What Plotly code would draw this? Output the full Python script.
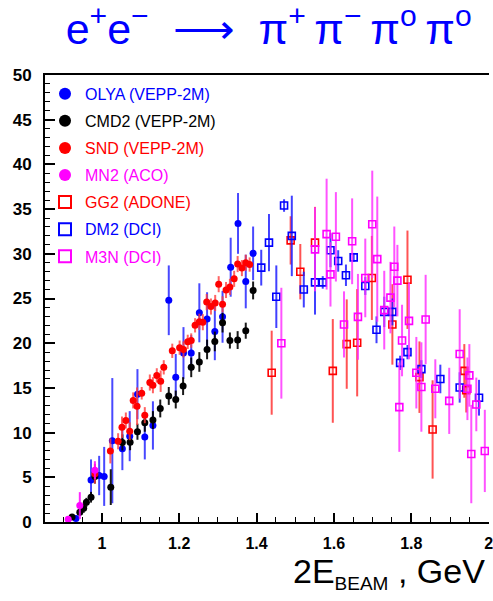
import plotly.graph_objects as go

# ---------------- data ----------------
olya_x = [0.933, 0.972, 0.993, 1.006, 1.027, 1.053, 1.072, 1.092, 1.111, 1.132, 1.173, 1.191,
          1.211, 1.231, 1.252, 1.272, 1.292, 1.312, 1.333, 1.352, 1.372, 1.391]
olya_y = [0.4, 4.7, 5.2, 5.1, 9.1, 8.2, 9.6, 14.3, 9.5, 10.8, 24.8, 16.2,
          18.9, 18.9, 23.4, 22.7, 21.3, 22.95, 28.5, 33.4, 26.9, 30.05]
olya_e = [0.3, 2.3, 2.2, 3.3, 7.0, 2.4, 2.8, 2.8, 2.5, 2.7, 3.9, 2.6,
          2.9, 2.0, 3.3, 3.0, 3.2, 2.9, 3.3, 3.4, 3.0, 3.0]

cmd2_x = [0.923, 0.943, 0.953, 0.960, 0.972, 0.982, 1.023, 1.053, 1.073, 1.092, 1.111, 1.132, 1.151,
          1.173, 1.191, 1.210, 1.231, 1.252, 1.272, 1.292, 1.312, 1.331, 1.351, 1.372, 1.391]
cmd2_y = [0.56, 1.09, 1.53, 2.2, 2.77, 5.1, 3.9, 8.9, 8.93, 10.1, 11.1, 11.4, 12.7,
          14.1, 13.7, 15.2, 17.3, 17.9, 19.3, 20.2, 22.3, 20.3, 20.35, 21.4, 25.9]
cmd2_e = [0.3, 0.4, 0.5, 0.5, 0.6, 0.8, 2.0, 0.9, 0.9, 0.9, 1.0, 1.0, 1.0,
          1.0, 1.0, 1.0, 1.1, 1.1, 1.1, 1.1, 1.1, 0.9, 1.0, 0.9, 1.0]

snd_x = [0.982, 1.022, 1.042, 1.052, 1.062, 1.072, 1.081, 1.091, 1.103, 1.111, 1.124, 1.132,
         1.142, 1.152, 1.160, 1.182, 1.201, 1.211, 1.222, 1.231, 1.241, 1.252, 1.261, 1.271,
         1.282, 1.293, 1.302, 1.312, 1.321, 1.331, 1.342, 1.351, 1.362, 1.372, 1.382]
snd_y = [5.4, 7.95, 9.03, 10.6, 11.35, 10.15, 13.6, 12.95, 14.4, 11.95, 15.6, 15.3,
         16.4, 15.75, 17.3, 19.15, 19.5, 19.3, 20.15, 20.3, 22.0, 22.4, 22.35, 24.6,
         24.1, 24.5, 26.6, 24.35, 25.95, 26.3, 27.2, 28.85, 28.4, 29.0, 28.8]
snd_e = [1.1, 1.4, 0.9, 1.2, 0.9, 1.0, 0.9, 2.1, 0.7, 0.9, 0.9, 0.9,
         0.8, 1.2, 0.8, 0.8, 0.8, 0.9, 0.8, 0.8, 0.8, 0.9, 0.9, 0.9,
         0.9, 0.9, 0.9, 0.9, 0.9, 0.9, 0.9, 0.9, 0.9, 0.9, 0.8]

mn2_x = [0.913, 0.943, 0.982]
mn2_y = [0.3, 1.84, 5.8]
mn2_e = [0.3, 1.5, 1.0]

gg2_x = [1.439, 1.488, 1.513, 1.551, 1.597, 1.633, 1.660, 1.698, 1.751, 1.790, 1.821, 1.855, 1.937, 1.942]
gg2_y = [16.7, 31.5, 28.0, 31.25, 16.9, 19.9, 20.05, 27.3, 22.1, 27.1, 16.2, 10.35, 16.9, 14.75]
gg2_e = [4.7, 2.7, 3.1, 4.0, 5.8, 5.0, 6.0, 4.7, 4.5, 5.5, 4.0, 5.5, 3.0, 2.5]

dm2_x = [1.412, 1.432, 1.451, 1.471, 1.491, 1.522, 1.551, 1.571, 1.591, 1.611, 1.631,
         1.651, 1.681, 1.710, 1.730, 1.751, 1.771, 1.790, 1.826, 1.875, 1.925, 1.975]
dm2_y = [28.45, 31.25, 25.2, 35.4, 32.0, 26.0, 26.8, 26.8, 30.4, 29.2, 27.6,
         29.6, 26.4, 21.5, 23.5, 23.5, 17.8, 19.0, 17.1, 16.0, 15.05, 13.9]
dm2_e = [2.0, 3.2, 3.5, 0.7, 4.5, 2.0, 3.6, 0.7, 1.9, 1.2, 1.2,
         0.5, 1.0, 1.5, 1.7, 1.5, 0.8, 0.8, 1.0, 1.6, 1.7, 2.0]

m3n_x = [1.464, 1.551, 1.581, 1.591, 1.605, 1.626, 1.647, 1.662, 1.681, 1.699, 1.712, 1.730,
         1.746, 1.756, 1.764, 1.769, 1.776, 1.794, 1.813, 1.826, 1.837, 1.862, 1.898, 1.925,
         1.945, 1.950, 1.955, 1.968, 1.990]
m3n_y = [20.0, 30.5, 32.2, 27.7, 31.9, 22.1, 31.4, 22.95, 27.3, 33.3, 29.4, 23.7,
         25.1, 28.55, 27.0, 12.85, 20.3, 22.5, 16.7, 15.1, 22.65, 14.9, 13.55, 18.8,
         14.9, 16.4, 7.6, 13.15, 7.95]
m3n_e = [6.2, 4.7, 6.2, 3.6, 5.0, 3.7, 4.8, 4.8, 4.4, 6.0, 7.0, 4.4,
         4.0, 4.5, 4.0, 5.0, 4.0, 4.3, 4.0, 5.0, 5.0, 3.3, 3.7, 5.0,
         3.5, 3.5, 5.5, 3.0, 4.6]

y_ticks = [0, 5, 10, 15, 20, 25, 30, 35, 40, 45, 50]
x_ticks = [1.0, 1.2, 1.4, 1.6, 1.8, 2.0]
x_tick_labels = ["1", "1.2", "1.4", "1.6", "1.8", "2"]

BLUE = "#0000ff"
RED = "#ff0000"
MAG = "#ff00ff"
BLACK = "#000000"

series = [
    ("OLYA (VEPP-2M)", olya_x, olya_y, olya_e, BLUE, "circle", "rgba(40,40,255,0.85)"),
    ("CMD2 (VEPP-2M)", cmd2_x, cmd2_y, cmd2_e, BLACK, "circle", "rgba(0,0,0,0.9)"),
    ("SND (VEPP-2M)", snd_x, snd_y, snd_e, RED, "circle", "rgba(255,60,60,0.8)"),
    ("MN2 (ACO)", mn2_x, mn2_y, mn2_e, MAG, "circle", "rgba(255,0,255,0.85)"),
    ("GG2 (ADONE)", gg2_x, gg2_y, gg2_e, RED, "square-open", "rgba(255,40,40,0.8)"),
    ("DM2 (DCI)", dm2_x, dm2_y, dm2_e, BLUE, "square-open", "rgba(30,30,255,0.85)"),
    ("M3N (DCI)", m3n_x, m3n_y, m3n_e, MAG, "square-open", "rgba(255,40,255,0.8)"),
]

fig = go.Figure()
for name, xs, ys, es, col, sym, ecol in series:
    is_open = sym == "square-open"
    fig.add_trace(go.Scatter(
        x=xs, y=ys,
        mode="markers",
        name=f"<span style='color:{col}'>{name}</span>",
        marker=dict(symbol=sym, size=7, color=col,
                    line=dict(width=1.6 if is_open else 0, color=col)),
        error_y=dict(type="data", array=es, visible=True, color=ecol,
                     thickness=2, width=0),
        legendgroup=name,
    ))

TS = "\u2009"
fig.update_layout(
    width=493, height=601,
    margin=dict(l=45, r=4, t=75, b=79, autoexpand=False),
    paper_bgcolor="white", plot_bgcolor="white",
    font=dict(family="Liberation Sans, Arial, sans-serif", color="black"),
    title=dict(
        text=("e<sup>+</sup>e<sup>−</sup>  ⟶  π<sup>+</sup>" + TS + "π<sup>−</sup>" + TS
              + "π<sup>o</sup>" + TS + "π<sup>o</sup>"),
        font=dict(size=43, color=BLUE, family="Liberation Sans, Arial, sans-serif"),
        x=0.545, xanchor="center", xref="container",
        y=0.952, yanchor="middle", yref="container",
        automargin=False,
    ),
    showlegend=True,
    legend=dict(
        x=0.0, y=0.996, xanchor="left", yanchor="top",
        bgcolor="rgba(0,0,0,0)", borderwidth=0,
        font=dict(size=16, family="Liberation Sans, Arial, sans-serif"),
        tracegroupgap=3.3, itemsizing="constant",
    ),
    xaxis=dict(
        range=[0.853, 2.0008], automargin=False,
        tickvals=x_ticks, ticktext=x_tick_labels,
        ticks="inside", ticklen=9, tickwidth=1.5, tickcolor="black",
        minor=dict(dtick=0.05, tick0=1.0, ticks="inside", ticklen=5, tickwidth=1, tickcolor="black", showgrid=False),
        showline=True, linecolor="black", linewidth=2, mirror=True,
        showgrid=False, zeroline=False,
        tickfont=dict(size=16, weight="bold", color="black"),
        ticklabelstandoff=6, ticklabeloverflow="allow",
    ),
    yaxis=dict(
        range=[0, 50], automargin=False,
        tickvals=y_ticks,
        ticks="inside", ticklen=10, tickwidth=1.5, tickcolor="black",
        minor=dict(dtick=1, tick0=0, ticks="inside", ticklen=5, tickwidth=1, tickcolor="black", showgrid=False),
        showline=True, linecolor="black", linewidth=2, mirror=False,
        showgrid=False, zeroline=False,
        tickfont=dict(size=17, weight="bold", color="black"),
        ticklabelstandoff=8,
    ),
)

fig.add_annotation(
    text="2E<sub><span style='font-size:19px'>BEAM</span></sub> , GeV",
    xref="paper", yref="paper",
    x=0.995, xanchor="right",
    y=-0.115, yanchor="middle",
    showarrow=False,
    font=dict(size=34, color="black", family="Liberation Sans, Arial, sans-serif"),
)

fig.write_html("out.html",
               config={"displayModeBar": False},
               post_script="document.body.style.margin='0';document.body.style.overflow='hidden';")
